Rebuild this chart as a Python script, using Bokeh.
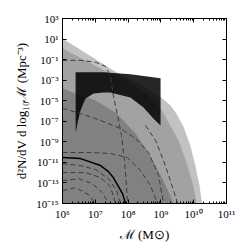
from bokeh.plotting import figure
from bokeh.models import LogAxis, FixedTicker, CustomJSTickFormatter
from bokeh.embed import file_html
from bokeh.resources import INLINE

# ---------------- data (log10 values) ----------------
x_tick_exps = [6, 7, 8, 9, 10, 11]
x_tick_labels = ["10⁶", "10⁷", "10⁸", "10⁹", "10¹⁰", "10¹¹"]
y_tick_exps = [3, 1, -1, -3, -5, -7, -9, -11, -13, -15]
y_tick_labels = ["10³", "10¹", "10⁻¹", "10⁻³", "10⁻⁵", "10⁻⁷", "10⁻⁹", "10⁻¹¹", "10⁻¹³", "10⁻¹⁵"]

# outer (light) envelope
light_logM = [6.0, 6.5, 7.0, 7.5, 8.0, 8.5, 9.0, 9.3, 9.5, 9.7, 9.9, 10.05, 10.18, 10.25]
light_logN = [1.05, 0.05, -0.95, -1.95, -2.85, -3.7, -4.65, -5.5, -6.4, -7.6, -9.4, -11.3, -13.3, -15.0]
# middle envelope
mid_logM = [6.0, 6.5, 7.0, 7.5, 8.0, 8.5, 8.99, 9.2, 9.54, 9.81, 9.99, 10.09]
mid_logN = [0.1, -0.75, -1.6, -2.45, -3.25, -4.2, -5.75, -6.92, -8.87, -11.31, -13.26, -15.0]
# inner (dark) envelope
dark_logM = [6.0, 6.4, 7.01, 7.62, 8.23, 8.68, 9.05, 9.29, 9.38]
dark_logN = [-3.8, -4.29, -4.97, -6.14, -8.19, -10.34, -12.58, -14.24, -15.0]

# black constraint region
box_top_logM = [6.40, 7.25, 8.07, 8.99]
box_top_logN = [-2.24, -2.24, -2.43, -2.82]
box_bot_logM = [6.40, 6.47, 6.55, 6.70, 6.95, 7.25, 7.46, 8.07, 8.47, 8.77, 8.99]
box_bot_logN = [-8.09, -7.0, -5.95, -4.78, -4.29, -4.19, -4.19, -4.68, -5.65, -6.73, -7.41]

# dashed model curves
dash_curves = [
    ([6.00, 6.55, 7.01, 7.31, 7.46, 7.55, 7.68, 7.80, 7.89, 7.95, 7.98],
     [-1.07, -1.07, -1.26, -1.65, -2.53, -4.48, -6.43, -8.39, -10.83, -13.26, -15.0]),
    ([6.00, 6.55, 7.16, 7.77, 8.23, 8.62, 8.93, 9.08],
     [-5.75, -6.24, -6.92, -7.70, -8.68, -10.04, -12.28, -15.0]),
    ([6.00, 6.85, 7.46, 7.98, 8.38, 8.68, 8.90],
     [-10.04, -10.04, -10.14, -10.53, -11.80, -13.26, -15.0]),
    ([8.53, 8.84, 9.08, 9.29, 9.51],
     [-7.41, -8.87, -10.83, -12.78, -15.0]),
    ([6.00, 6.55, 7.01, 7.40, 7.65, 7.77],
     [-11.12, -11.31, -11.70, -12.58, -13.75, -15.0]),
    ([6.00, 6.49, 6.91, 7.22, 7.40],
     [-12.78, -12.58, -13.07, -13.95, -15.0]),
    ([6.00, 6.40, 6.79, 7.01],
     [-13.75, -13.46, -14.14, -15.0]),
    ([6.00, 6.70, 7.16, 7.46, 7.62],
     [-11.99, -11.99, -12.48, -13.36, -15.0]),
]

# solid reference curve
solid_logM = [6.00, 6.55, 7.16, 7.40, 7.55, 7.83, 7.92]
solid_logN = [-10.53, -10.63, -11.31, -11.90, -12.48, -14.04, -15.0]


def p10(vals):
    return [10.0 ** v for v in vals]


FONT = "Liberation Serif"

p = figure(x_axis_type="log", y_axis_type="log",
           x_range=(1e6, 1e11), y_range=(1e-15, 1e3),
           frame_width=164, frame_height=185,
           min_border_left=62, min_border_right=20,
           min_border_top=18, min_border_bottom=43,
           output_backend="svg", toolbar_location=None)
p.xgrid.visible = False
p.ygrid.visible = False
p.outline_line_color = "black"
p.outline_line_width = 1
p.background_fill_color = "white"
p.border_fill_color = "white"

floor = 1e-16
for lm, ln, col in [(light_logM, light_logN, "#c2c2c2"),
                    (mid_logM, mid_logN, "#a2a2a2"),
                    (dark_logM, dark_logN, "#818181")]:
    p.varea(x=p10(lm), y1=[floor] * len(lm), y2=p10(ln), fill_color=col)

box_x = p10(box_top_logM) + p10(box_bot_logM[::-1])
box_y = p10(box_top_logN) + p10(box_bot_logN[::-1])
p.patch(x=box_x, y=box_y, fill_color="black", fill_alpha=0.85, line_color=None)

for lm, ln in dash_curves:
    p.line(x=p10(lm), y=p10(ln), line_color="#3c3c3c", line_width=1, line_dash="5 3")

p.line(x=p10(solid_logM), y=p10(solid_logN), line_color="black", line_width=1.5)

x_major = [float(f"1e{e}") for e in x_tick_exps]
x_minor = [k * float(f"1e{e}") for e in x_tick_exps[:-1] for k in range(2, 10)]
y_major = [float(f"1e{e}") for e in y_tick_exps]

FMT_CODE = """
const e = Math.round(Math.log10(tick));
const i = exps.indexOf(e);
return i >= 0 ? labels[i] : "";
"""
BLANK_CODE = "return ' ';"


def style(ax, labels=True):
    ax.major_tick_in = 4
    ax.major_tick_out = 0
    ax.minor_tick_in = 2
    ax.minor_tick_out = 0
    ax.axis_line_color = "black"
    ax.major_tick_line_color = "black"
    ax.minor_tick_line_color = "black"
    if labels:
        ax.major_label_text_font = FONT
        ax.major_label_text_font_size = "11px"
        ax.major_label_text_color = "black"
        ax.major_label_standoff = 4
        ax.axis_label_text_font = FONT
        ax.axis_label_text_font_size = "13px"
        ax.axis_label_text_font_style = "normal"
        ax.axis_label_text_color = "black"
        ax.axis_label_standoff = 4
    else:
        ax.formatter = CustomJSTickFormatter(code=BLANK_CODE)
        ax.major_label_text_font_size = "1px"
        ax.major_label_text_alpha = 0
        ax.major_label_standoff = 0


xa = p.xaxis[0]
xa.ticker = FixedTicker(ticks=x_major, minor_ticks=x_minor)
xa.formatter = CustomJSTickFormatter(args=dict(exps=x_tick_exps, labels=x_tick_labels), code=FMT_CODE)
xa.axis_label = "ℳ (M⊙)"
style(xa)

ya = p.yaxis[0]
ya.ticker = FixedTicker(ticks=y_major, minor_ticks=[])
ya.formatter = CustomJSTickFormatter(args=dict(exps=y_tick_exps, labels=y_tick_labels), code=FMT_CODE)
ya.axis_label = "d²N/dV d log₁₀ℳ (Mpc⁻³)"
style(ya)

top = LogAxis(ticker=FixedTicker(ticks=x_major, minor_ticks=x_minor))
style(top, labels=False)
p.add_layout(top, "above")
right = LogAxis(ticker=FixedTicker(ticks=y_major, minor_ticks=[]))
style(right, labels=False)
p.add_layout(right, "right")

open("out.html", "w").write(file_html(p, INLINE))
